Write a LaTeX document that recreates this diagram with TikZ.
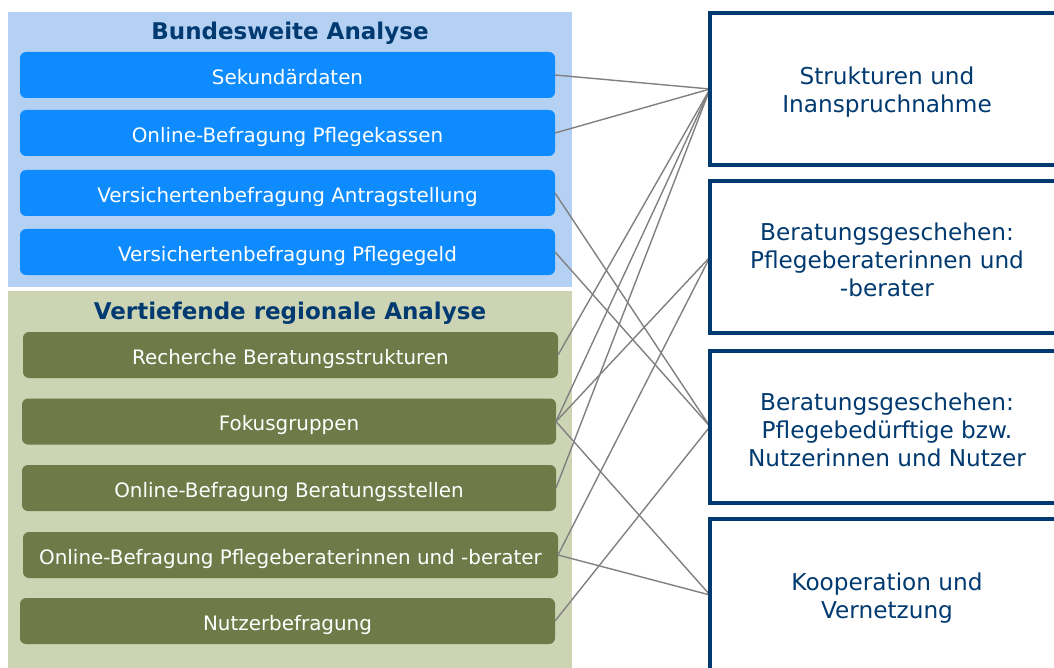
\documentclass[tikz,border=0pt]{standalone}
\usepackage{fontspec}
\setmainfont{DejaVu Sans}
\definecolor{panelblue}{RGB}{180,209,244}
\definecolor{boxblue}{RGB}{14,140,255}
\definecolor{panelolive}{RGB}{205,212,180}
\definecolor{boxolive}{RGB}{110,123,72}
\definecolor{navy}{RGB}{0,58,112}
\definecolor{linegray}{RGB}{128,128,128}
\begin{document}
\begin{tikzpicture}[x=1pt,y=-1pt,
  ptitle/.style={text=navy, font=\fontsize{23}{27}\selectfont\bfseries, inner sep=0pt},
  leftbox/.style={rounded corners=6pt, text=white, font=\fontsize{19.9}{23}\selectfont, text height=18.6pt, text depth=0pt, minimum height=46pt, inner sep=0pt, outer sep=0pt},
  bluebox/.style={leftbox, fill=boxblue, minimum width=535pt},
  olivebox/.style={leftbox, fill=boxolive},
  rightbox/.style={draw=navy, line width=4pt, fill=white, minimum width=354pt, minimum height=152pt, inner sep=0pt, outer sep=0pt},
  righttext/.style={text=navy, align=center, inner sep=0pt, font=\fontsize{23.2}{28}\selectfont},
  conn/.style={draw=linegray, line width=1.4pt}
]
\useasboundingbox (0,0) rectangle (1054,668);
\fill[panelblue] (8,12) rectangle (572,287);
\fill[panelolive] (8,291) rectangle (572,668);
\node[ptitle] (t1) at (290,33) {Bundesweite Analyse};
\node[ptitle] (t2) at (290,313) {Vertiefende regionale Analyse};

\node[bluebox] (b1) at (287.5,75) {Sekundärdaten};
\node[bluebox] (b2) at (287.5,133) {Online-Befragung Pflegekassen};
\node[bluebox] (b3) at (287.5,193) {Versichertenbefragung Antragstellung};
\node[bluebox] (b4) at (287.5,252) {Versichertenbefragung Pflegegeld};

\node[olivebox, minimum width=535pt] (g1) at (290.5,355) {Recherche Beratungsstrukturen};
\node[olivebox, minimum width=534pt] (g2) at (289,421.5) {Fokusgruppen};
\node[olivebox, minimum width=534pt] (g3) at (289,488) {Online-Befragung Beratungsstellen};
\node[olivebox, minimum width=535pt] (g4) at (290.5,555) {Online-Befragung Pflegeberaterinnen und -berater};
\node[olivebox, minimum width=535pt] (g5) at (287.5,621) {Nutzerbefragung};

\coordinate (r1w) at (710,89);
\coordinate (r2w) at (710,257);
\coordinate (r3w) at (710,426.5);
\coordinate (r4w) at (710,595);

\draw[conn] (b1.east) -- (r1w);
\draw[conn] (b2.east) -- (r1w);
\draw[conn] (b3.east) -- (r3w);
\draw[conn] (b4.east) -- (r3w);
\draw[conn] (g1.east) -- (r1w);
\draw[conn] (g2.east) -- (r1w);
\draw[conn] (g2.east) -- (r2w);
\draw[conn] (g2.east) -- (r4w);
\draw[conn] (g3.east) -- (r1w);
\draw[conn] (g4.east) -- (r2w);
\draw[conn] (g4.east) -- (r4w);
\draw[conn] (g5.east) -- (r3w);

\node[rightbox] (r1) at (887,89) {};
\node[rightbox] (r2) at (887,257) {};
\node[rightbox] (r3) at (887,426.5) {};
\node[rightbox] (r4) at (887,595) {};
\node[righttext] (r1t) at ([yshift=-3pt]r1.center) {Strukturen und\\Inanspruchnahme};
\node[righttext] (r2t) at ([yshift=-3pt]r2.center) {Beratungsgeschehen:\\Pflegeberaterinnen und\\-berater};
\node[righttext] (r3t) at ([yshift=-3pt]r3.center) {Beratungsgeschehen:\\Pflegebedürftige bzw.\\Nutzerinnen und Nutzer};
\node[righttext] (r4t) at ([yshift=-3pt]r4.center) {Kooperation und\\Vernetzung};
\end{tikzpicture}
\end{document}
